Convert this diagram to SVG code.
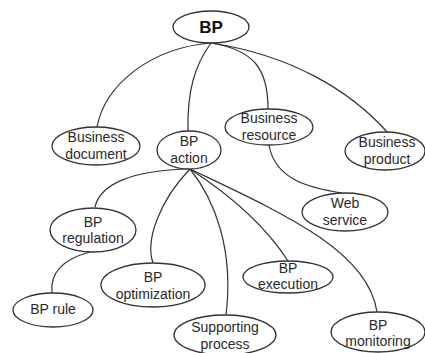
<svg xmlns="http://www.w3.org/2000/svg" width="425" height="353" viewBox="0 0 425 353">
  <style>
    .node ellipse { fill: #ffffff; stroke: #333333; stroke-width: 1.3; }
    .node text { font-family: "Liberation Sans", Arial, sans-serif; font-size: 14px; fill: #2a2a2a; text-anchor: middle; dominant-baseline: central; }
    #bp text { font-size: 17px; font-weight: bold; fill: #111111; }
    #edges path { fill: none; stroke: #333333; stroke-width: 1.2; }
  </style>
  <rect width="425" height="353" fill="#ffffff"/>

  <g id="edges">
    <!-- from BP -->
    <path d="M211,43 C150,48 105,85 97,127"/>
    <path d="M211,43 C195,65 187,90 188,132"/>
    <path d="M211,43 C255,50 268,70 268,109"/>
    <path d="M211,43 C290,55 350,90 388,133"/>
    <!-- from Business resource -->
    <path d="M269,145 C275,180 310,188 342,193"/>
    <!-- from BP action -->
    <path d="M190,169 C130,170 100,185 95,207"/>
    <path d="M190,169 C160,200 145,240 153,263"/>
    <path d="M190,169 C215,200 234,250 226,315"/>
    <path d="M190,169 C230,195 265,225 288,261"/>
    <path d="M190,169 C280,212 368,250 377,312"/>
    <!-- from BP regulation -->
    <path d="M90,252 C60,260 50,275 52,293"/>
  </g>

  <g id="bp" class="node">
    <ellipse cx="211" cy="27" rx="38" ry="16"/>
    <text x="211" y="27">BP</text>
  </g>
  <g id="business-document" class="node">
    <ellipse cx="96" cy="146" rx="44" ry="19"/>
    <text x="96" y="137">Business</text>
    <text x="96" y="154">document</text>
  </g>
  <g id="bp-action" class="node">
    <ellipse cx="189" cy="150" rx="32" ry="19"/>
    <text x="189" y="141">BP</text>
    <text x="189" y="158">action</text>
  </g>
  <g id="business-resource" class="node">
    <ellipse cx="269" cy="127" rx="44" ry="18"/>
    <text x="269" y="118">Business</text>
    <text x="269" y="135">resource</text>
  </g>
  <g id="business-product" class="node">
    <ellipse cx="385" cy="151" rx="40" ry="19"/>
    <text x="387" y="142">Business</text>
    <text x="387" y="159">product</text>
  </g>
  <g id="web-service" class="node">
    <ellipse cx="345" cy="212" rx="43" ry="19"/>
    <text x="345" y="203">Web</text>
    <text x="345" y="220">service</text>
  </g>
  <g id="bp-regulation" class="node">
    <ellipse cx="93" cy="230" rx="43" ry="22"/>
    <text x="93" y="222">BP</text>
    <text x="93" y="238">regulation</text>
  </g>
  <g id="bp-rule" class="node">
    <ellipse cx="53" cy="310" rx="40" ry="17"/>
    <text x="53" y="309">BP rule</text>
  </g>
  <g id="bp-optimization" class="node">
    <ellipse cx="153" cy="285" rx="52" ry="22"/>
    <text x="153" y="277">BP</text>
    <text x="153" y="294">optimization</text>
  </g>
  <g id="bp-execution" class="node">
    <ellipse cx="288" cy="277" rx="45" ry="16"/>
    <text x="288" y="268">BP</text>
    <text x="288" y="284">execution</text>
  </g>
  <g id="supporting-process" class="node">
    <ellipse cx="225" cy="335" rx="51" ry="20"/>
    <text x="225" y="327">Supporting</text>
    <text x="225" y="344">process</text>
  </g>
  <g id="bp-monitoring" class="node">
    <ellipse cx="378" cy="332" rx="47" ry="20"/>
    <text x="378" y="325">BP</text>
    <text x="378" y="341">monitoring</text>
  </g>
</svg>
